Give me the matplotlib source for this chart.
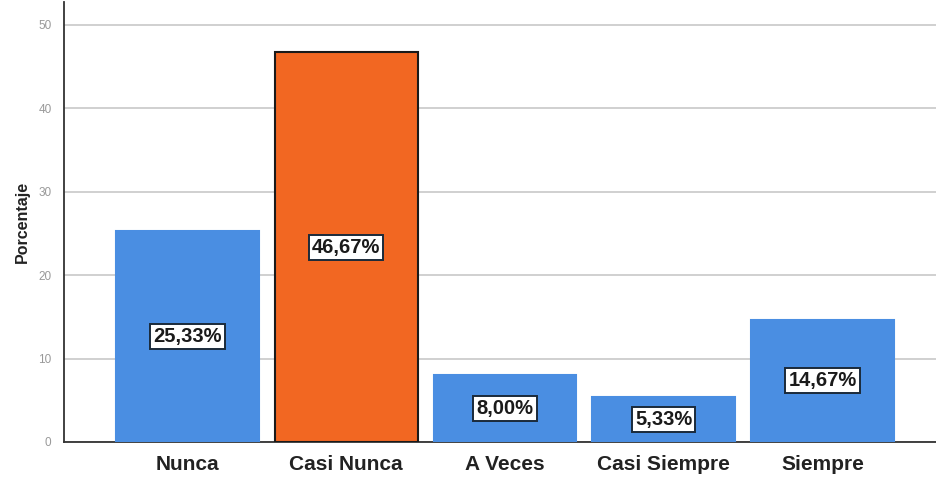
import matplotlib.pyplot as plt

plt.rcParams["font.family"] = ["Liberation Sans", "DejaVu Sans"]

categorias = ["Nunca", "Casi Nunca", "A Veces", "Casi Siempre", "Siempre"]
porcentajes = [25.33, 46.67, 8.00, 5.33, 14.67]
colores = ["#4a8ee2", "#f26722", "#4a8ee2", "#4a8ee2", "#4a8ee2"]
bordes = ["#4a8ee2", "#1a1a1a", "#4a8ee2", "#4a8ee2", "#4a8ee2"]

fig = plt.figure(figsize=(9.36, 4.79), dpi=100)
ax = fig.add_axes([64 / 936, 1 - 442 / 479, (936 - 64) / 936, 440 / 479])

x = range(len(categorias))
ax.bar(x, porcentajes, width=0.9, color=colores, edgecolor=bordes,
       linewidth=1.5, zorder=3)

for xi, v in zip(x, porcentajes):
    etiqueta = f"{v:.2f}%".replace(".", ",")
    ax.text(xi, v / 2, etiqueta, ha="center", va="center", fontsize=14.5,
            fontweight="bold", color="#1a1a1a", zorder=4,
            bbox=dict(boxstyle="square,pad=0.15", fc="white", ec="#1a2a3a", lw=1.4))

ax.set_xlim(-0.778, 4.715)
ax.set_ylim(0, 52.7)
ax.set_yticks([0, 10, 20, 30, 40, 50])
ax.yaxis.grid(True, color="#c8c8c8", linewidth=1.2, zorder=0)
ax.set_axisbelow(True)

ax.set_xticks(list(x))
ax.set_xticklabels(categorias, fontsize=15, fontweight="bold", color="#222222")
ax.tick_params(axis="x", length=0, pad=9)
ax.tick_params(axis="y", length=0, labelsize=8.5, labelcolor="#999999", pad=9)

ax.set_ylabel("Porcentaje", fontsize=11.5, fontweight="bold", color="#222222", labelpad=6)

for lado in ["top", "right"]:
    ax.spines[lado].set_visible(False)
ax.spines["left"].set_color("#333333")
ax.spines["bottom"].set_color("#333333")
ax.spines["left"].set_linewidth(1.3)
ax.spines["bottom"].set_linewidth(1.3)

fig.savefig("out.png", dpi=100)
